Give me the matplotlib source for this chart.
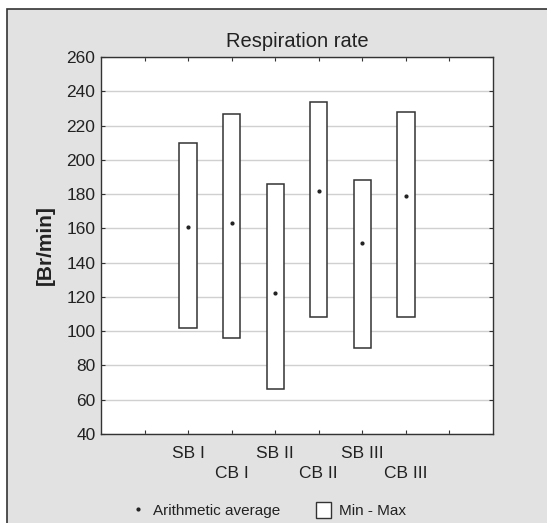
import matplotlib
matplotlib.use("Agg")
import matplotlib.pyplot as plt
from matplotlib.patches import Rectangle
from matplotlib.lines import Line2D

plt.rcParams['font.family'] = ['Liberation Sans', 'DejaVu Sans']

categories = ["SB I", "CB I", "SB II", "CB II", "SB III", "CB III"]
mins = [102, 96, 66, 108, 90, 108]
maxs = [210, 227, 186, 234, 188, 228]
means = [161, 163, 122, 182, 151.5, 179]
yticks = [40, 60, 80, 100, 120, 140, 160, 180, 200, 220, 240, 260]

fig = plt.figure(figsize=(5.47, 5.23), dpi=100)
fig.patch.set_facecolor('white')
bg = Rectangle((7/547, -0.05), 1.1, 1.05 - 9/523, transform=fig.transFigure,
               facecolor='#e2e2e2', edgecolor='#333333', linewidth=1.2, zorder=-10)
fig.patches.append(bg)

ax = fig.add_axes([101/547, 1 - 434/523, (493-101)/547, (434-57)/523])
ax.set_facecolor('white')
ax.set_xlim(0, 9)
ax.set_ylim(40, 260)
ax.set_yticks(yticks)
ax.yaxis.grid(True, color='#d0d0d0', linewidth=1)
ax.set_axisbelow(True)

positions = list(range(2, 2 + len(categories)))
w = 0.4
for p, lo, hi, m in zip(positions, mins, maxs, means):
    ax.add_patch(Rectangle((p - w/2, lo), w, hi - lo, facecolor='white',
                           edgecolor='#333333', linewidth=1.1, zorder=3))
ax.plot(positions, means, linestyle='none', marker='o', markersize=2,
        color='#222222', zorder=4)

ax.set_xticks(range(1, 9))
labels = [""] + [c if i % 2 == 0 else "\n" + c for i, c in enumerate(categories)] + [""]
ax.set_xticklabels(labels, fontsize=12.5, color='#222222', linespacing=1.4)
ax.tick_params(axis='x', pad=9)
ax.tick_params(axis='both', direction='in', top=True, right=True, length=3,
               color='#333333', labelcolor='#222222')
ax.tick_params(axis='y', labelsize=12.5, pad=4)
for s in ax.spines.values():
    s.set_color('#333333')
    s.set_linewidth(1.0)

ax.set_title("Respiration rate", fontsize=14.5, color='#222222', pad=7)
ax.set_ylabel("[Br/min]", fontsize=15, fontweight='bold', color='#222222', labelpad=8)

handles = [Line2D([], [], linestyle='none', marker='o', markersize=2, color='#222222'),
           Rectangle((0, 0), 1, 1, facecolor='white', edgecolor='#333333', linewidth=1.0)]
leg = fig.legend(handles, ["Arithmetic average", "Min - Max"], ncol=2, frameon=False,
                 loc='center', bbox_to_anchor=(268/547, 1 - 510/523), fontsize=11,
                 handlelength=1.0, handleheight=1.2, columnspacing=2.3, handletextpad=0.5)
for t in leg.get_texts():
    t.set_color('#222222')

fig.savefig("out.png", dpi=100, facecolor=fig.get_facecolor())
